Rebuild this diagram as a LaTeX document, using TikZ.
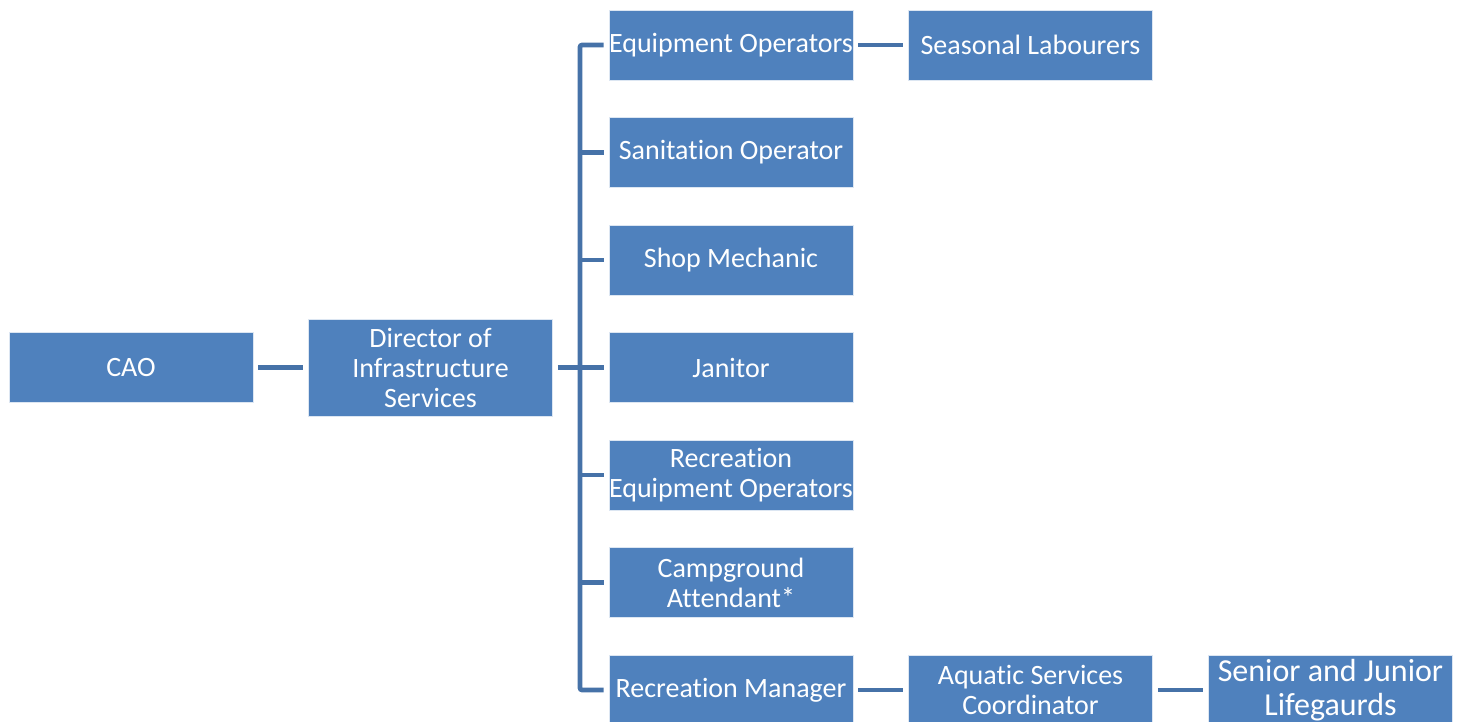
\documentclass[tikz,border=0pt]{standalone}
\usepackage{fontspec}
\setmainfont{Carlito}[Ligatures={NoCommon}]
\usetikzlibrary{calc}
\definecolor{boxblue}{RGB}{79,129,189}
\definecolor{lineblue}{RGB}{70,114,168}
\tikzset{
  unit/.style={fill=boxblue, draw=white!80!boxblue, line width=0.6pt, text=white,
    minimum width=244pt, minimum height=70pt, inner sep=0pt, align=center,
    font=\fontsize{28}{30}\selectfont},
  bigunit/.style={unit, font=\fontsize{32}{34}\selectfont},
  link/.style={draw=lineblue, line width=4.6pt, shorten <=5pt, shorten >=5pt},
  trunk/.style={draw=lineblue, line width=4.6pt, rounded corners=2pt}
}
\begin{document}
\begin{tikzpicture}[x=1pt,y=-1pt]
\useasboundingbox (0,0) rectangle (1458,721);
% left side
\node[unit] (cao) at (131,367.5) {CAO};
\node[unit, minimum height=97pt] (dir) at (430.5,367.5) {Director of\\Infrastructure\\Services};
% column of direct reports
\node[unit] (eq)   at (731,45)    {Equipment Operators};
\node[unit] (san)  at (731,152.5) {Sanitation Operator};
\node[unit] (shop) at (731,260)   {Shop Mechanic};
\node[unit] (jan)  at (731,367.5) {Janitor};
\node[unit] (req)  at (731,475)   {Recreation\\Equipment Operators};
\node[unit] (camp) at (731,582.5) {Campground\\Attendant*};
\node[unit] (rm)   at (731,690)   {Recreation Manager};
% further levels
\node[unit] (seas) at (1030.5,45)  {Seasonal Labourers};
\node[unit] (aq)   at (1030.5,690) {Aquatic Services\\Coordinator};
\node[bigunit] (life) at (1330.5,690) {Senior and Junior\\Lifegaurds};
% connectors
\draw[link] (cao.east) -- (dir.east -| dir.west);
\draw[link] (dir.east) -- (jan.west);
\coordinate (tk) at (580,0);
\draw[trunk] ($(eq.west)+(-5,0)$) -- (eq.west -| tk) -- (rm.west -| tk) -- ($(rm.west)+(-5,0)$);
\foreach \n in {san,shop,req,camp}
  \draw[draw=lineblue, line width=4.6pt] (\n.west -| tk) -- ($(\n.west)+(-5,0)$);
\draw[link] (eq.east) -- (seas.west);
\draw[link] (rm.east) -- (aq.west);
\draw[link] (aq.east) -- (life.west);
\end{tikzpicture}
\end{document}
